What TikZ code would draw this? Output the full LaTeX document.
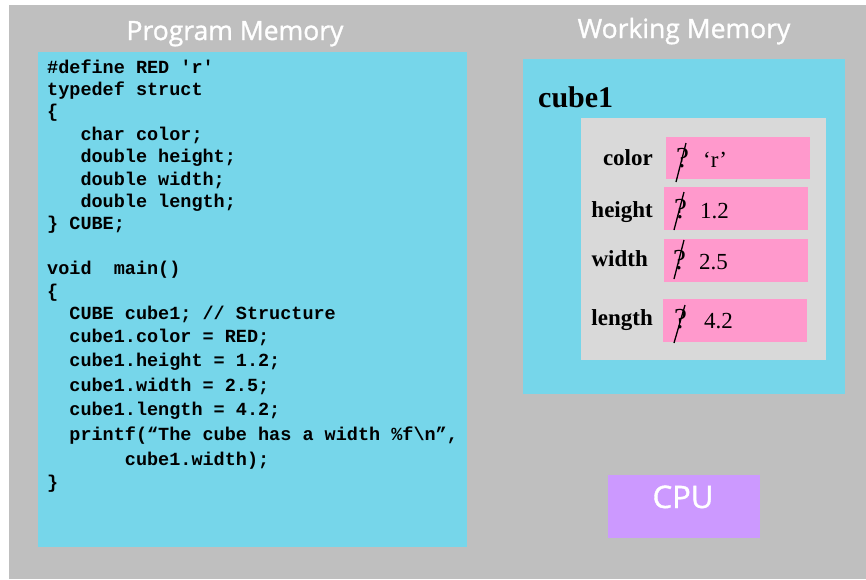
\documentclass[tikz,border=0pt]{standalone}
\usepackage{fontspec}
\setmainfont{Liberation Serif}
\setmonofont{Liberation Mono}
\newfontfamily\titlefont{Open Sans}[FakeBold=1.2]
\definecolor{slidegrey}{RGB}{191,191,191}
\definecolor{memcyan}{RGB}{118,214,234}
\definecolor{fieldgrey}{RGB}{217,217,217}
\definecolor{fieldpink}{RGB}{255,153,204}
\definecolor{cpuviolet}{RGB}{204,153,255}

\begin{document}
\begin{tikzpicture}[
x=1pt, y=-1pt,
box/.style={inner sep=0pt, outer sep=0pt},
title/.style={anchor=base, inner sep=0pt, text=white, font=\titlefont\fontsize{26.5}{26.5}\selectfont},
code/.style={anchor=base west, inner sep=0pt, font=\ttfamily\bfseries\fontsize{18.5}{18.5}\selectfont},
field/.style={anchor=base east, inner sep=0pt, font=\bfseries\fontsize{23}{23}\selectfont},
value/.style={anchor=base west, inner sep=0pt, font=\fontsize{23}{23}\selectfont},
oldval/.style={value, font=\fontsize{29}{29}\selectfont},
strike/.style={line width=1.3pt}
]

\useasboundingbox (0,0) rectangle (866,579);
\fill[white] (0,0) rectangle (866,579);
\fill[slidegrey] (9,5) rectangle (866,579);

% memory boxes
\node[box, fill=memcyan, minimum width=429, minimum height=495] (prog) at (252.5,299.5) {};
\node[box, fill=memcyan, minimum width=322, minimum height=335] (work) at (684,226.5) {};
\node[box, fill=fieldgrey, minimum width=245, minimum height=242] (cube) at (703.5,239) {};
\node[box, fill=cpuviolet, minimum width=152, minimum height=63] (cpu) at (684,506.5) {};

% titles
\node[title] (progtitle) at (235,40) {Program Memory};
\node[title] (worktitle) at (684,38) {Working Memory};
\node[title, font=\titlefont\fontsize{31}{31}\selectfont] (cputitle) at (683,508) {CPU};

% program text
\node[code] (c1) at (47,73) {\#define RED 'r'};
\node[code] (c2) at (47,95.4) {typedef struct};
\node[code] (c3) at (47,117.8) {\{};
\node[code] (c4) at (47,140.2) {~~~char color;};
\node[code] (c5) at (47,162.6) {~~~double height;};
\node[code] (c6) at (47,185) {~~~double width;};
\node[code] (c7) at (47,207.4) {~~~double length;};
\node[code] (c8) at (47,229.8) {\} CUBE;};

\node[code] (c9) at (47,274.6) {void~~main()};
\node[code] (c10) at (47,297) {\{};
\node[code] (c11) at (47,319) {~~CUBE cube1; // Structure};
\node[code] (c12) at (47,342) {~~cube1.color = RED;};
\node[code] (c13) at (47,366) {~~cube1.height = 1.2;};
\node[code] (c14) at (47,391) {~~cube1.width = 2.5;};
\node[code] (c15) at (47,415) {~~cube1.length = 4.2;};
\node[code] (c16) at (47,440) {~~printf(“The cube has a width \%f\textbackslash n”,};
\node[code] (c17) at (47,465) {~~~~~~~cube1.width);};
\node[code] (c18) at (47,488) {\}};

% structure in working memory
\node[anchor=base west, inner sep=0pt, font=\bfseries\fontsize{30}{30}\selectfont] (name) at (538,107) {cube1};

\node[box, fill=fieldpink, minimum width=144, minimum height=42] (pcolor) at (738,158) {};
\node[box, fill=fieldpink, minimum width=144, minimum height=43] (pheight) at (736,208.5) {};
\node[box, fill=fieldpink, minimum width=144, minimum height=43] (pwidth) at (736,260.5) {};
\node[box, fill=fieldpink, minimum width=144, minimum height=43] (plength) at (735,320.5) {};

\node[field] (lcolor) at (653,165) {color};
\node[field] (lheight) at (653,217) {height};
\node[field] (lwidth) at (648,266) {width};
\node[field] (llength) at (653,325) {length};

% old values, struck out
\node[oldval] (qcolor) at (676,167) {?};
\node[oldval] (qheight) at (674,218) {?};
\node[oldval] (qwidth) at (673,269) {?};
\node[oldval] (qlength) at (674,328) {?};
\draw[strike] (686,143) -- (676,182);
\draw[strike] (684,192) -- (674,230);
\draw[strike] (684,240) -- (674,279);
\draw[strike] (685,305) -- (674,343);

% new values
\node[value] (vcolor) at (703,167) {‘r’};
\node[value] (vheight) at (700,218) {1.2};
\node[value] (vwidth) at (699,269) {2.5};
\node[value] (vlength) at (704,328) {4.2};

\end{tikzpicture}
\end{document}
